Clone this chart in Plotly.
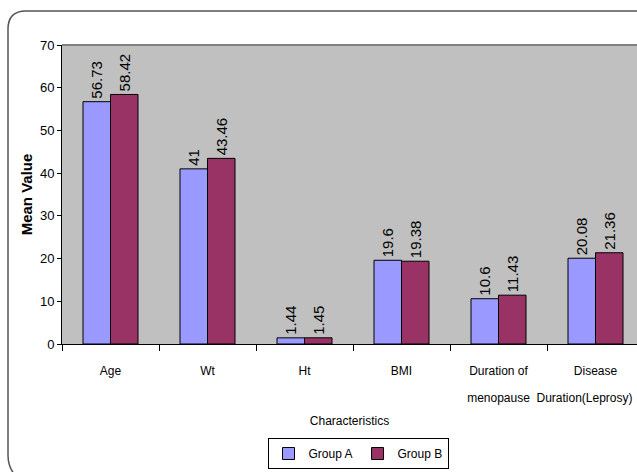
import plotly.graph_objects as go

categories = ["Age", "Wt", "Ht", "BMI", "Duration of menopause", "Disease Duration(Leprosy)"]
tick_line1 = ["Age", "Wt", "Ht", "BMI", "Duration of", "Disease"]
tick_line2 = ["", "", "", "", "menopause", "Duration(Leprosy)"]
group_a = [56.73, 41, 1.44, 19.6, 10.6, 20.08]
group_b = [58.42, 43.46, 1.45, 19.38, 11.43, 21.36]
y_ticks = [0, 10, 20, 30, 40, 50, 60, 70]

W, H = 637, 472
L, R, T, B = 62, 0, 45, 128
PW, PH = W - L - R, H - T - B
CAT_PX = 97.0

def px(x):
    return (x - L) / PW

def py(y):
    return (H - B - y) / PH

FONT = "Liberation Sans, Arial"

fig = go.Figure()
fig.add_trace(go.Bar(
    x=categories, y=group_a, name="Group A",
    marker=dict(color="#9999FF", line=dict(color="black", width=1)),
    text=[f"{v:g}" for v in group_a], textposition="outside", textangle=-90,
    constraintext="none", cliponaxis=False,
    textfont=dict(family=FONT, size=15, color="black"),
))
fig.add_trace(go.Bar(
    x=categories, y=group_b, name="Group B",
    marker=dict(color="#993366", line=dict(color="black", width=1)),
    text=[f"{v:g}" for v in group_b], textposition="outside", textangle=-90,
    constraintext="none", cliponaxis=False,
    textfont=dict(family=FONT, size=15, color="black"),
))

x_range = [-0.5, -0.5 + PW / CAT_PX]

# second-line tick positions; the last one is nudged left so it stays inside the page
line2_pos = list(range(len(categories)))
line2_pos[-1] = line2_pos[-1] - 11 / CAT_PX

fig.update_layout(
    width=W, height=H,
    margin=dict(l=L, r=R, t=T, b=B, pad=0),
    paper_bgcolor="white", plot_bgcolor="#C0C0C0",
    barmode="group", bargap=0.433, bargroupgap=0,
    showlegend=True,
    legend=dict(orientation="h", x=px(358), xanchor="center", y=py(438), yanchor="top",
                bgcolor="white", bordercolor="black", borderwidth=1,
                font=dict(family=FONT, size=12, color="black"),
                itemwidth=30, tracegroupgap=0),
    xaxis=dict(
        type="category", categoryorder="array", categoryarray=categories,
        range=x_range, tickmode="array", tickvals=categories, ticktext=tick_line1,
        showline=True, linecolor="black", linewidth=1,
        ticks="outside", tickson="boundaries", ticklen=6, tickcolor="black",
        showgrid=False, zeroline=False,
        tickfont=dict(family=FONT, size=12, color="black"),
        ticklabelstandoff=16, ticklabeloverflow="allow",
        title=dict(text="Characteristics", font=dict(family=FONT, size=12, color="black"),
                   standoff=39),
        automargin=False,
    ),
    xaxis2=dict(
        overlaying="x", anchor="y", side="bottom", type="linear",
        range=x_range, tickmode="array", tickvals=line2_pos,
        ticktext=tick_line2, showline=False, ticks="", showgrid=False, zeroline=False,
        tickfont=dict(family=FONT, size=12, color="black"),
        ticklabelstandoff=45, ticklabeloverflow="allow", automargin=False,
    ),
    yaxis=dict(
        range=[0, 70], tickmode="array", tickvals=y_ticks,
        showline=True, linecolor="black", linewidth=1,
        ticks="outside", ticklen=4, tickcolor="black",
        showgrid=False, zeroline=False,
        tickfont=dict(family=FONT, size=13, color="black"),
        title=dict(text="Mean Value", font=dict(family=FONT, size=15, color="black", weight="bold"),
                   standoff=3),
        automargin=False,
    ),
)

# invisible trace to activate xaxis2
fig.add_trace(go.Scatter(x=[0], y=[0], xaxis="x2", mode="markers",
                         marker=dict(opacity=0), showlegend=False, hoverinfo="skip"))

# top border of plot area
fig.add_shape(type="line", xref="paper", yref="paper", x0=0, x1=1, y0=1, y1=1,
              line=dict(color="#808080", width=2))

# rounded outer frame
x_l, y_t = px(8), py(11)
path = (f"M {px(16)},{py(476)} Q {x_l},{py(468)} {x_l},{py(455)} "
        f"L {x_l},{py(29)} Q {x_l},{y_t} {px(26)},{y_t} L {px(660)},{y_t}")
fig.add_shape(type="path", xref="paper", yref="paper", path=path,
              line=dict(color="#555555", width=1.5))

fig.write_html("out.html", config={"displayModeBar": False},
               post_script="document.body.style.margin='0';")
